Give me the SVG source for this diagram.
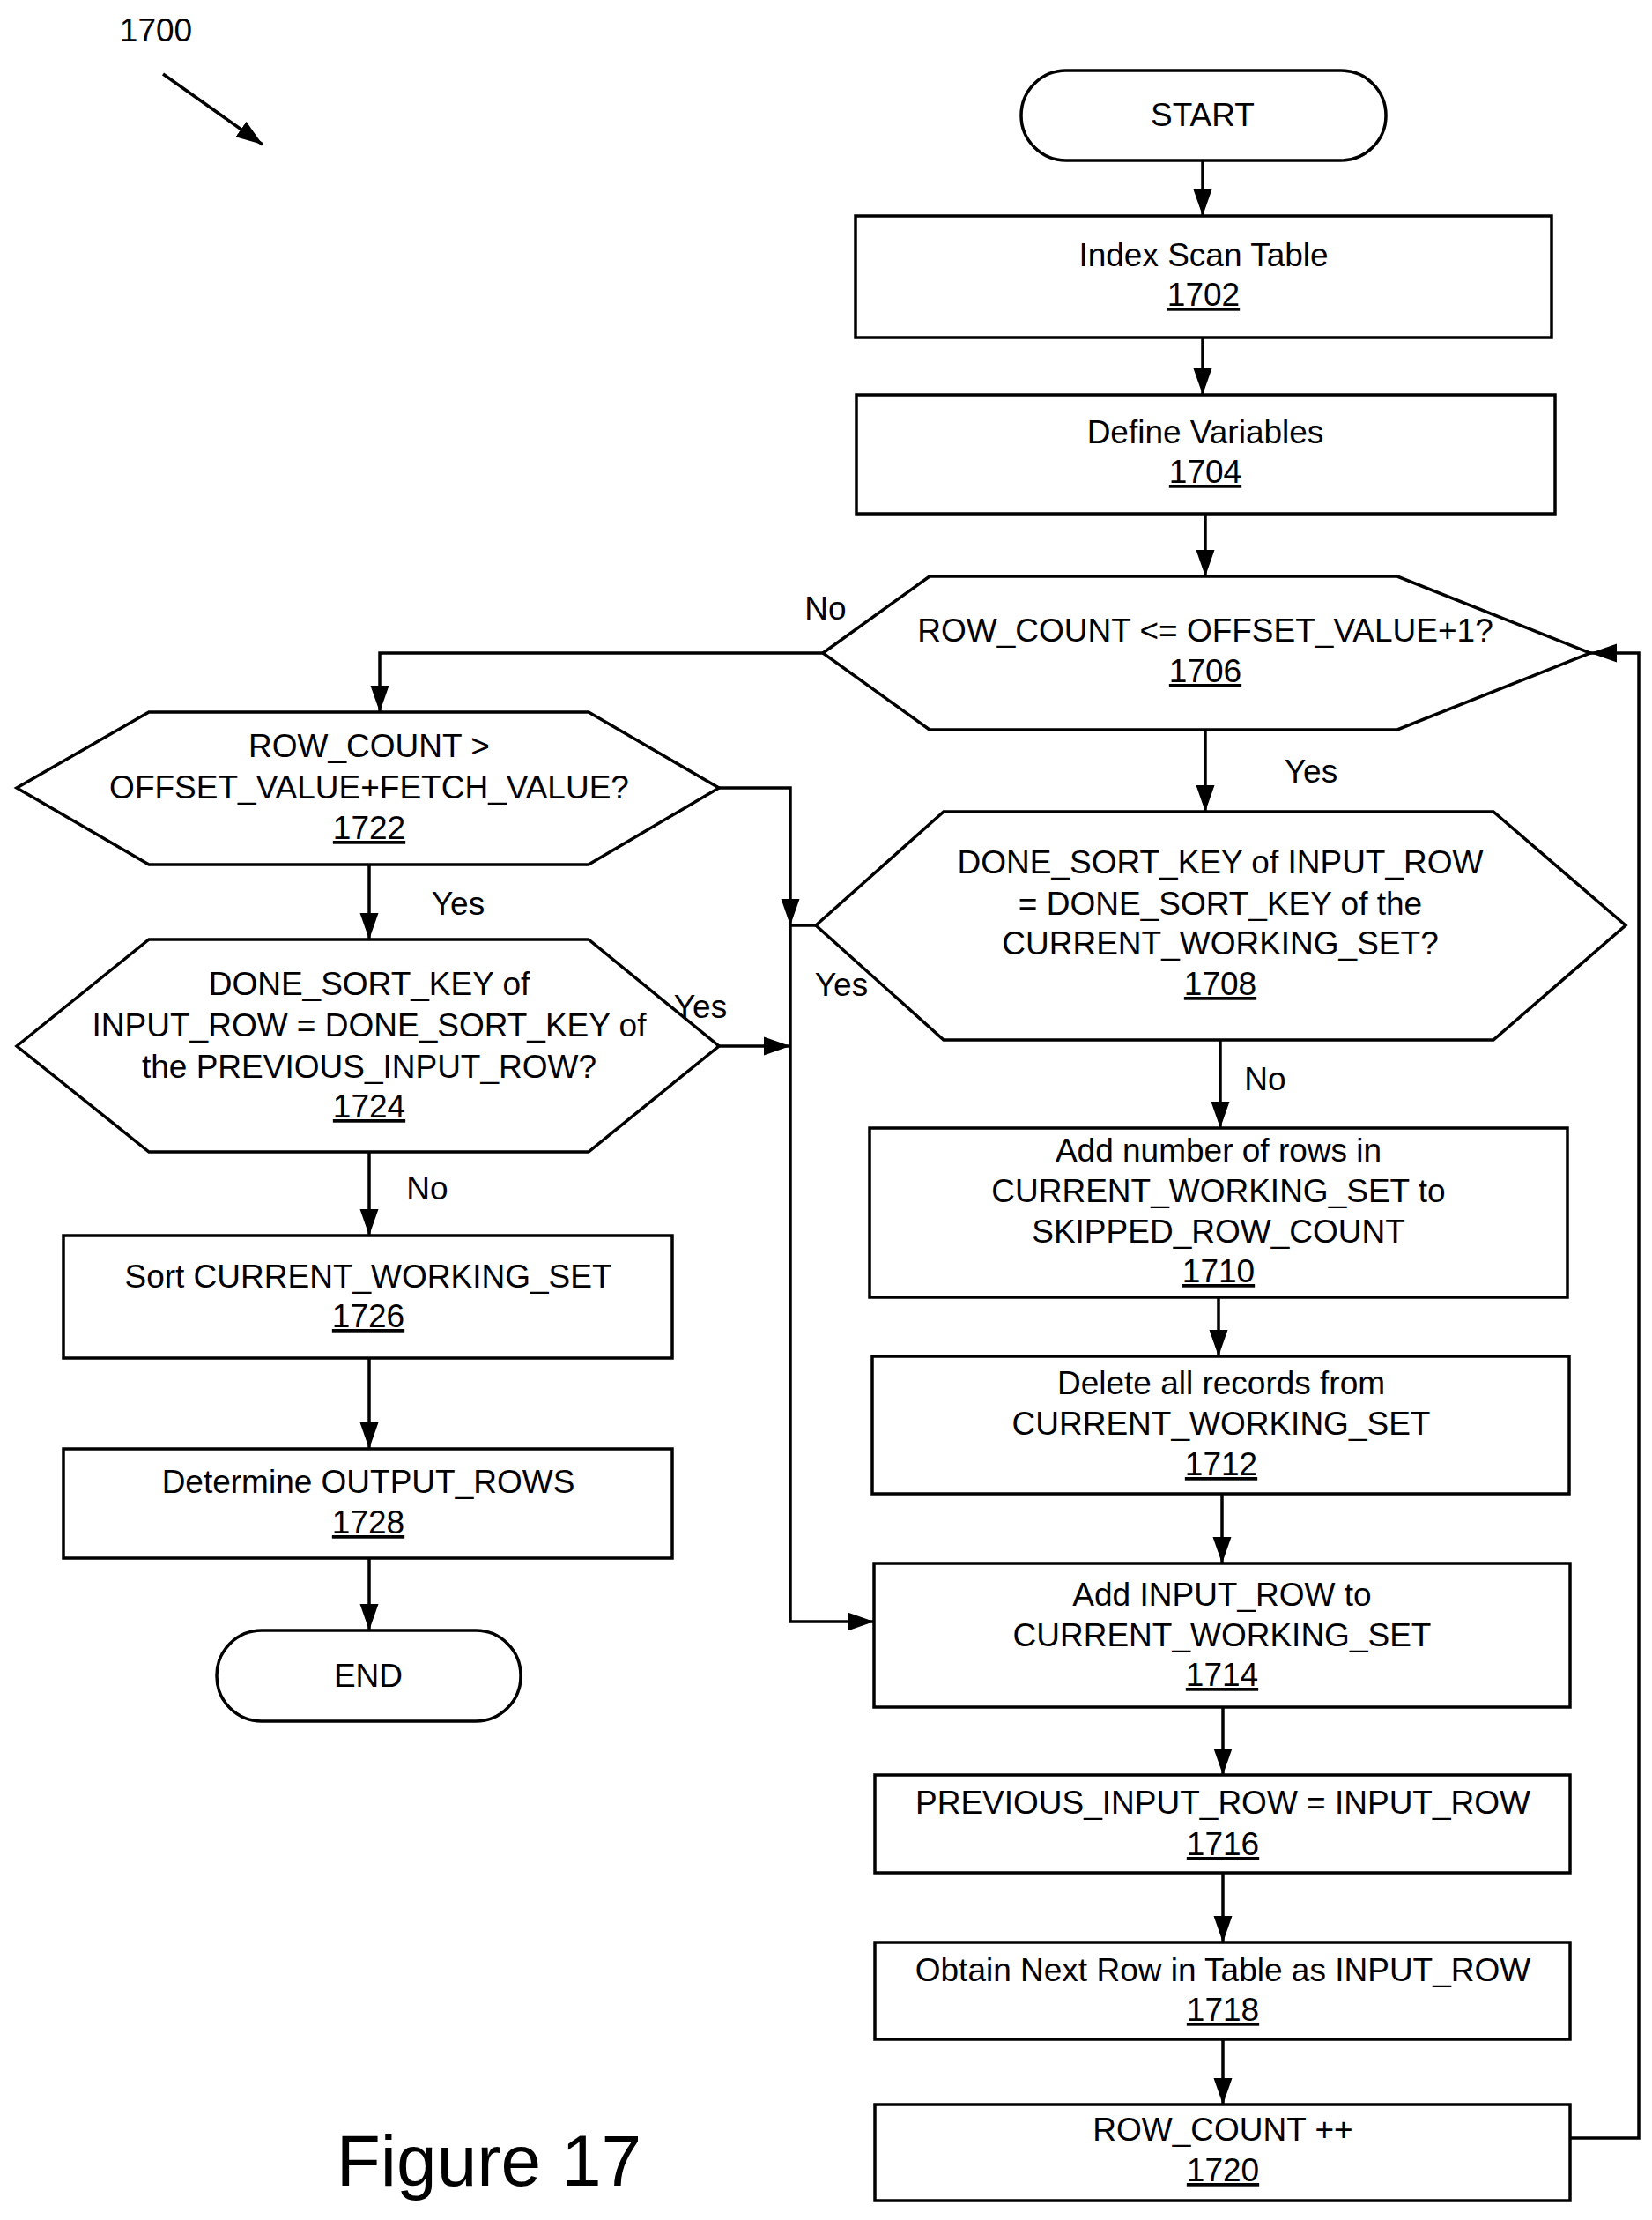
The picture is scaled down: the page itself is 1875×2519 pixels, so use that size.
<svg xmlns="http://www.w3.org/2000/svg" width="1875" height="2519" viewBox="0 0 1875 2519">
<defs>
<style>
.s{fill:#fff;stroke:#000;stroke-width:3.5}
.l{fill:none;stroke:#000;stroke-width:3.5}
text{font-family:"Liberation Sans",Arial,sans-serif;font-size:37px;text-anchor:middle;fill:#000}
.u{text-decoration:underline}
</style>
<marker id="a" viewBox="0 0 10 10" refX="10" refY="5" markerWidth="9" markerHeight="9" markerUnits="userSpaceOnUse" orient="auto"><path d="M0,0L10,5L0,10z"/></marker>
<marker id="b" viewBox="0 0 10 10" refX="10" refY="5" markerWidth="30" markerHeight="30" markerUnits="userSpaceOnUse" orient="auto"><path d="M0,1.5L10,5L0,8.5z"/></marker>
</defs>
<text x="177" y="47" style="text-anchor:middle">1700</text>
<g id="connectors" class="l" marker-end="url(#b)">
<path d="M185,84L298,164"/>
<path d="M1365,182V245"/>
<path d="M1365,383V448"/>
<path d="M1368,583V654"/>
<path d="M934,741H431V808"/>
<path d="M1368,828V921"/>
<path d="M816,894H897V1050"/>
<path d="M926,1050H897V1840H992"/>
<path d="M419,981V1066"/>
<path d="M816,1187H897"/>
<path d="M419,1307V1402"/>
<path d="M419,1541V1644"/>
<path d="M419,1768V1850"/>
<path d="M1385,1180V1280"/>
<path d="M1383,1472V1539"/>
<path d="M1387,1695V1774"/>
<path d="M1388,1937V2014"/>
<path d="M1388,2125V2204"/>
<path d="M1388,2314V2388"/>
<path d="M1782,2426H1860V741H1805"/>
</g>
<g id="labels">
<text x="937" y="703">No</text>
<text x="1488" y="888">Yes</text>
<text x="520" y="1038">Yes</text>
<text x="795" y="1155">Yes</text>
<text x="955" y="1130">Yes</text>
<text x="485" y="1361">No</text>
<text x="1436" y="1237">No</text>
</g>
<g id="start"><rect class="s" x="1159" y="80" width="414" height="102" rx="51"/><text x="1365" y="143">START</text></g>
<g id="n1702"><rect class="s" x="971" y="245" width="790" height="138"/><text x="1366" y="302">Index Scan Table</text><text class="u" x="1366" y="347">1702</text></g>
<g id="n1704"><rect class="s" x="972" y="448" width="793" height="135"/><text x="1368" y="503">Define Variables</text><text class="u" x="1368" y="548">1704</text></g>
<g id="n1706"><path class="s" d="M934,741L1055,654H1586L1805,741L1586,828H1055z"/><text x="1368" y="728">ROW_COUNT &lt;= OFFSET_VALUE+1?</text><text class="u" x="1368" y="774">1706</text></g>
<g id="n1722"><path class="s" d="M19,894L169,808H668L816,894L668,981H169z"/><text x="419" y="859">ROW_COUNT &gt;</text><text x="419" y="906">OFFSET_VALUE+FETCH_VALUE?</text><text class="u" x="419" y="952">1722</text></g>
<g id="n1708"><path class="s" d="M926,1050L1071,921H1695L1845,1050L1695,1180H1071z"/><text x="1385" y="991">DONE_SORT_KEY of INPUT_ROW</text><text x="1385" y="1038">= DONE_SORT_KEY of the</text><text x="1385" y="1083">CURRENT_WORKING_SET?</text><text class="u" x="1385" y="1129">1708</text></g>
<g id="n1724"><path class="s" d="M19,1187L169,1066H668L816,1187L668,1307H169z"/><text x="419" y="1129">DONE_SORT_KEY of</text><text x="419" y="1176">INPUT_ROW = DONE_SORT_KEY of</text><text x="419" y="1223">the PREVIOUS_INPUT_ROW?</text><text class="u" x="419" y="1268">1724</text></g>
<g id="n1726"><rect class="s" x="72" y="1402" width="691" height="139"/><text x="418" y="1461">Sort CURRENT_WORKING_SET</text><text class="u" x="418" y="1506">1726</text></g>
<g id="n1728"><rect class="s" x="72" y="1644" width="691" height="124"/><text x="418" y="1694">Determine OUTPUT_ROWS</text><text class="u" x="418" y="1740">1728</text></g>
<g id="end"><rect class="s" x="246" y="1850" width="345" height="103" rx="51"/><text x="418" y="1914">END</text></g>
<g id="n1710"><rect class="s" x="987" y="1280" width="792" height="192"/><text x="1383" y="1318">Add number of rows in</text><text x="1383" y="1364">CURRENT_WORKING_SET to</text><text x="1383" y="1410">SKIPPED_ROW_COUNT</text><text class="u" x="1383" y="1455">1710</text></g>
<g id="n1712"><rect class="s" x="990" y="1539" width="791" height="156"/><text x="1386" y="1582">Delete all records from</text><text x="1386" y="1628">CURRENT_WORKING_SET</text><text class="u" x="1386" y="1674">1712</text></g>
<g id="n1714"><rect class="s" x="992" y="1774" width="790" height="163"/><text x="1387" y="1822">Add INPUT_ROW to</text><text x="1387" y="1868">CURRENT_WORKING_SET</text><text class="u" x="1387" y="1913">1714</text></g>
<g id="n1716"><rect class="s" x="993" y="2014" width="789" height="111"/><text x="1388" y="2058">PREVIOUS_INPUT_ROW = INPUT_ROW</text><text class="u" x="1388" y="2105">1716</text></g>
<g id="n1718"><rect class="s" x="993" y="2204" width="789" height="110"/><text x="1388" y="2248">Obtain Next Row in Table as INPUT_ROW</text><text class="u" x="1388" y="2293">1718</text></g>
<g id="n1720"><rect class="s" x="993" y="2388" width="789" height="109"/><text x="1388" y="2429">ROW_COUNT ++</text><text class="u" x="1388" y="2475">1720</text></g>
<text x="555" y="2480" style="font-size:82px">Figure 17</text>
</svg>
